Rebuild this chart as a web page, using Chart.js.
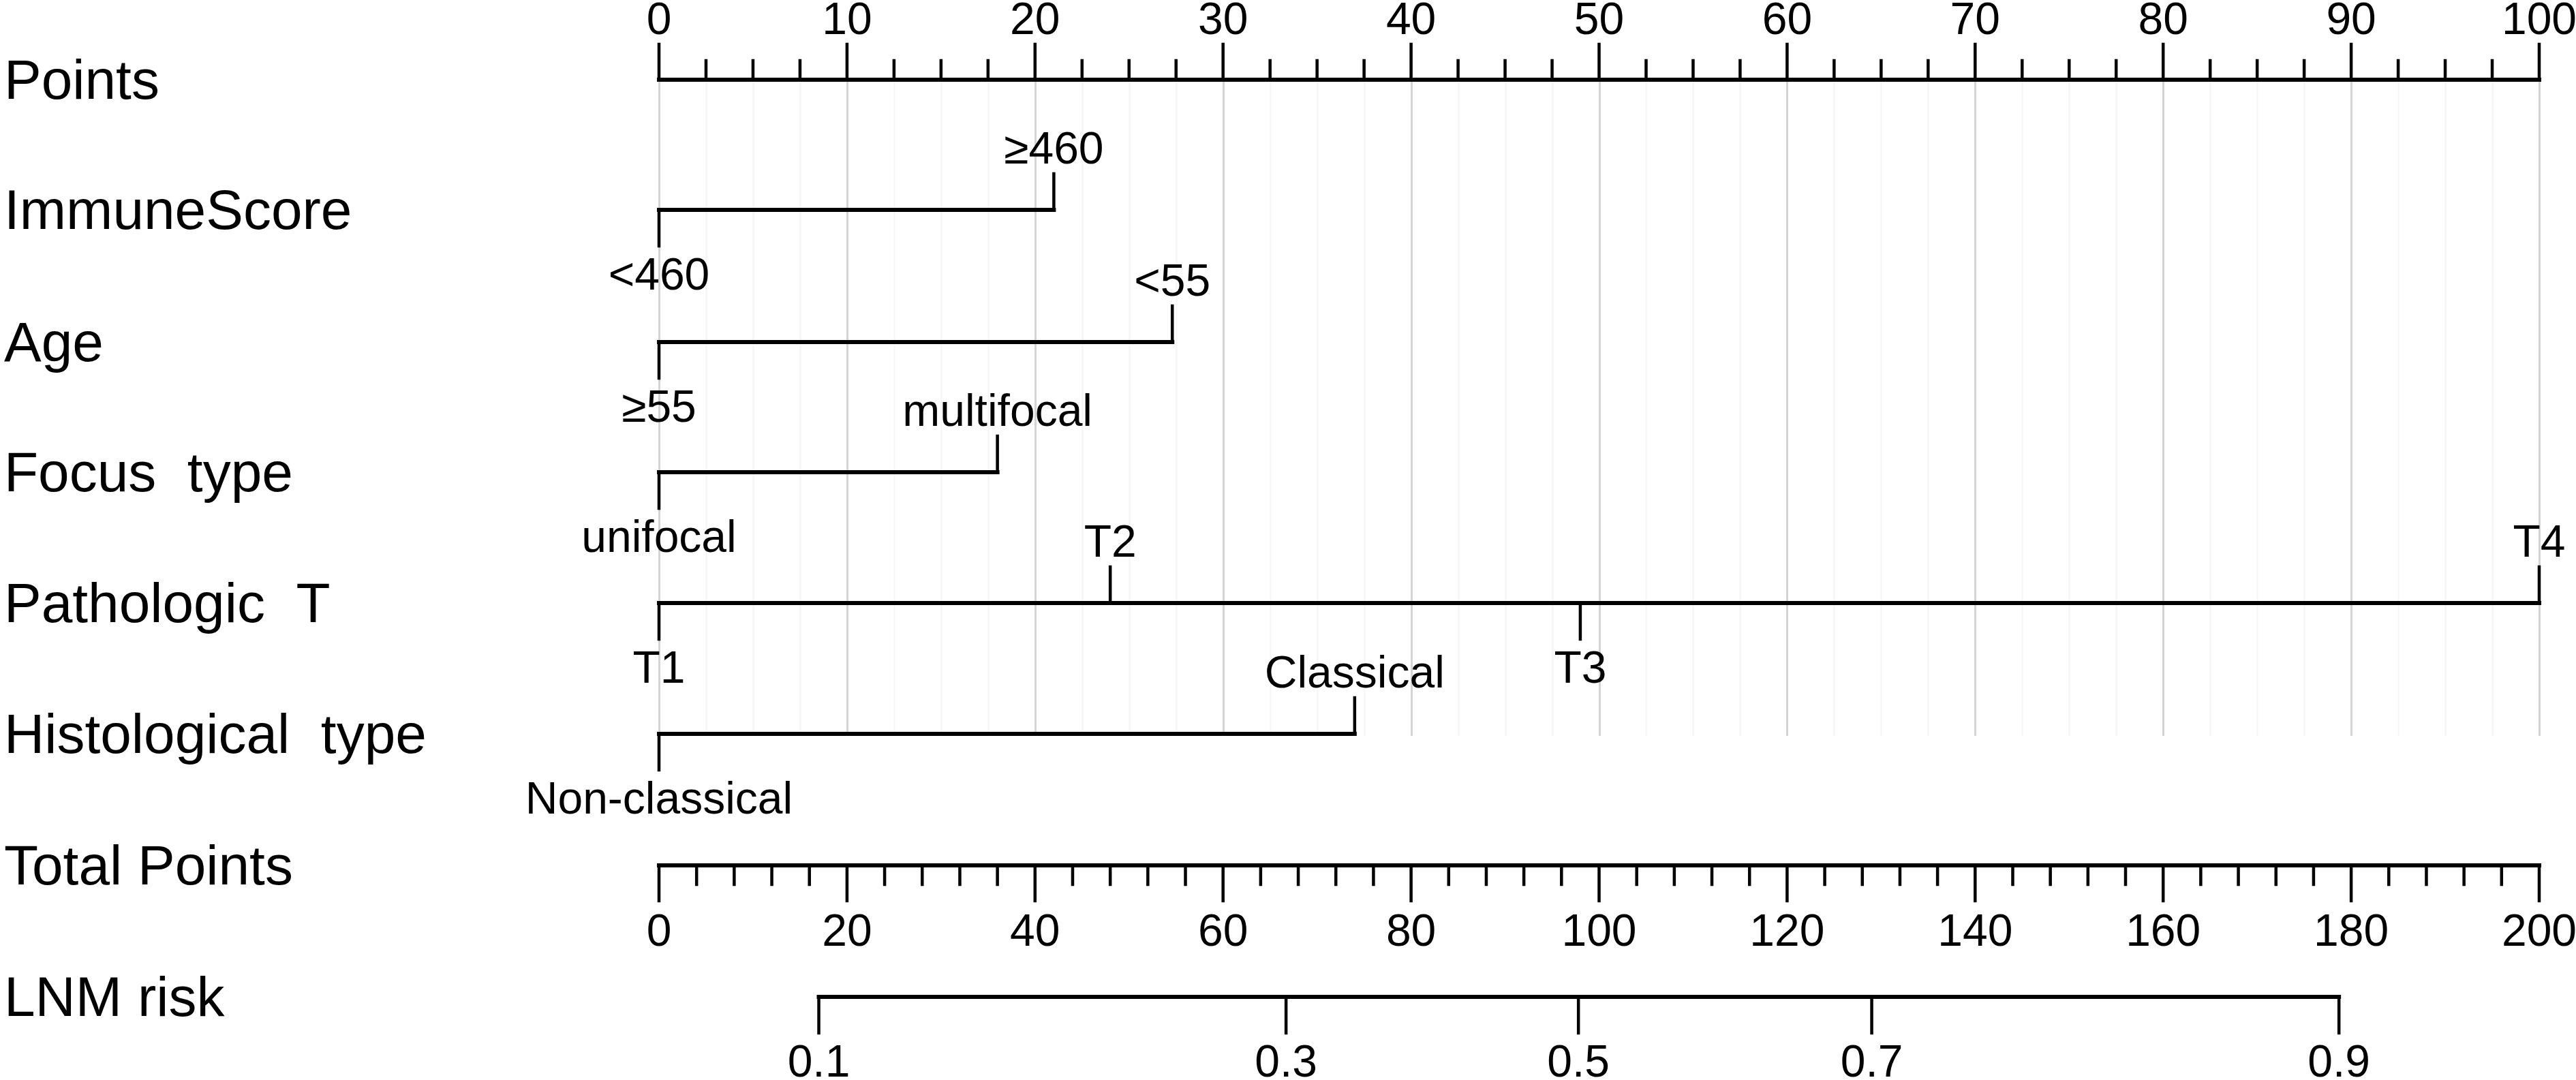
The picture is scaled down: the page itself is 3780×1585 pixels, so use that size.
<!DOCTYPE html>
<html>
<head>
<meta charset="utf-8">
<script src="https://cdn.jsdelivr.net/npm/chart.js@4.4.1/dist/chart.umd.min.js"></script>
<style>
  html, body { margin: 0; padding: 0; background: #fff; }
  #wrap { width: 3780px; height: 1585px; position: relative; }
</style>
</head>
<body>
<div id="wrap"><canvas id="nomo"></canvas></div>
<script>
// ---- values ----
const pointLabels = [0, 10, 20, 30, 40, 50, 60, 70, 80, 90, 100];
const totalLabels = [0, 20, 40, 60, 80, 100, 120, 140, 160, 180, 200];

const immuneLevels = ['<460', '≥460'];
const immunePoints = [0, 21];
const ageLevels = ['≥55', '<55'];
const agePoints = [0, 27.3];
const focusLevels = ['unifocal', 'multifocal'];
const focusPoints = [0, 18];
const tLevels = ['T1', 'T2', 'T3', 'T4'];
const tPoints = [0, 24, 49, 100];
const histLevels = ['Non-classical', 'Classical'];
const histPoints = [0, 37];

const riskLabels = ['0.1', '0.3', '0.5', '0.7', '0.9'];
const riskTotalPoints = [17, 66.7, 97.8, 129, 178.7];

// ---- layout ----
const ROW = { points: 117, immune: 308, age: 502, focus: 693, pathT: 885, hist: 1077, total: 1270, risk: 1463 };
const FONT = '"Liberation Sans", Arial, sans-serif';
const TITLE_SIZE = 82, LABEL_SIZE = 66;
const STUB = 53, MAJOR = 52, MINOR = 28;

const variables = [
  { title: 'ImmuneScore', levels: immuneLevels, pts: immunePoints, row: ROW.immune },
  { title: 'Age', levels: ageLevels, pts: agePoints, row: ROW.age },
  { title: 'Focus  type', levels: focusLevels, pts: focusPoints, row: ROW.focus },
  { title: 'Pathologic  T', levels: tLevels, pts: tPoints, row: ROW.pathT },
  { title: 'Histological  type', levels: histLevels, pts: histPoints, row: ROW.hist }
];

// vertical stubs, separated by gaps
function stubs(xs, rowY, dirs, lens) {
  const out = [];
  xs.forEach((x, i) => {
    out.push({ x: x, y: rowY }, { x: x, y: rowY + dirs[i] * lens[i] }, { x: x, y: null });
  });
  return out;
}
function span(xs, rowY) {
  return [{ x: Math.min(...xs), y: rowY }, { x: Math.max(...xs), y: rowY }];
}

function axisTicks(max, step, majorStep) {
  const xs = [], lens = [];
  for (let v = 0; v <= max + 1e-9; v += step) {
    xs.push(v);
    lens.push(Math.abs(v / majorStep - Math.round(v / majorStep)) < 1e-6 ? MAJOR : MINOR);
  }
  return { xs, lens };
}

const ptsAxis = axisTicks(100, 2.5, 10);
const totAxis = axisTicks(200, 4, 20);

const base = {
  borderColor: '#000', pointRadius: 0, fill: false, tension: 0, spanGaps: false,
  borderJoinStyle: 'miter', borderCapStyle: 'square', clip: false
};
function ds(label, data, width, axis) {
  const d = Object.assign({}, base, { label: label, data: data, borderWidth: width });
  if (axis) d.xAxisID = axis;
  return d;
}

const LINE_W = 6, STUB_W = 4.5;
const datasets = [];
datasets.push(ds('Points', span(ptsAxis.xs, ROW.points), LINE_W));
datasets.push(ds('Points ticks', stubs(ptsAxis.xs, ROW.points, ptsAxis.xs.map(() => -1), ptsAxis.lens), STUB_W));
variables.forEach(v => {
  datasets.push(ds(v.title, span(v.pts, v.row), LINE_W));
  datasets.push(ds(v.title + ' ticks',
    stubs(v.pts, v.row, v.pts.map((p, i) => (i % 2 === 0 ? 1 : -1)), v.pts.map(() => STUB)), STUB_W));
});
datasets.push(ds('Total Points', span(totAxis.xs, ROW.total), LINE_W, 'xt'));
datasets.push(ds('Total ticks', stubs(totAxis.xs, ROW.total, totAxis.xs.map(() => 1), totAxis.lens), STUB_W, 'xt'));
datasets.push(ds('LNM risk', span(riskTotalPoints, ROW.risk), LINE_W, 'xt'));
datasets.push(ds('LNM ticks', stubs(riskTotalPoints, ROW.risk, riskTotalPoints.map(() => 1), riskTotalPoints.map(() => STUB)), STUB_W, 'xt'));

const nomogramPlugin = {
  id: 'nomogram',
  beforeDatasetsDraw(chart) {
    const ctx = chart.ctx, x = chart.scales.x, y = chart.scales.y;
    ctx.save();
    ptsAxis.xs.forEach((v, i) => {
      const major = ptsAxis.lens[i] === MAJOR;
      const px = Math.round(x.getPixelForValue(v)) + 0.5;
      ctx.strokeStyle = major ? '#d4d4d4' : '#f5f5f5';
      ctx.lineWidth = major ? 3 : 2;
      ctx.beginPath();
      ctx.moveTo(px, y.getPixelForValue(ROW.points));
      ctx.lineTo(px, y.getPixelForValue(ROW.hist + 3));
      ctx.stroke();
    });
    ctx.restore();
  },
  afterDatasetsDraw(chart) {
    const ctx = chart.ctx, x = chart.scales.x, xt = chart.scales.xt, y = chart.scales.y;
    ctx.save();
    ctx.fillStyle = '#000';
    ctx.font = TITLE_SIZE + 'px ' + FONT;
    ctx.textAlign = 'left';
    ctx.textBaseline = 'alphabetic';
    const titles = [['Points', ROW.points]].concat(variables.map(v => [v.title, v.row]),
      [['Total Points', ROW.total], ['LNM risk', ROW.risk]]);
    titles.forEach(([t, r]) => ctx.fillText(t, 6, y.getPixelForValue(r + 28)));

    ctx.font = LABEL_SIZE + 'px ' + FONT;
    ctx.textAlign = 'center';
    pointLabels.forEach(v => ctx.fillText(String(v), x.getPixelForValue(v), y.getPixelForValue(ROW.points - 67)));
    variables.forEach(v => {
      v.levels.forEach((lab, i) => {
        const off = i % 2 === 0 ? 117 : -68;
        ctx.fillText(lab, x.getPixelForValue(v.pts[i]), y.getPixelForValue(v.row + off));
      });
    });
    totalLabels.forEach(v => ctx.fillText(String(v), xt.getPixelForValue(v), y.getPixelForValue(ROW.total + 118)));
    riskLabels.forEach((lab, i) => ctx.fillText(lab, xt.getPixelForValue(riskTotalPoints[i]), y.getPixelForValue(ROW.risk + 117)));
    ctx.restore();
  }
};

new Chart(document.getElementById('nomo'), {
  type: 'line',
  data: { datasets: datasets },
  options: {
    responsive: true,
    maintainAspectRatio: false,
    animation: false,
    layout: { padding: { left: 967, right: 54, top: 0, bottom: 0 } },
    plugins: { legend: { display: false }, tooltip: { enabled: false } },
    scales: {
      x: { type: 'linear', min: 0, max: 100, display: false },
      xt: { type: 'linear', axis: 'x', min: 0, max: 200, display: false },
      y: { type: 'linear', min: 0, max: 1585, reverse: true, display: false }
    }
  },
  plugins: [nomogramPlugin]
});
</script>
</body>
</html>
